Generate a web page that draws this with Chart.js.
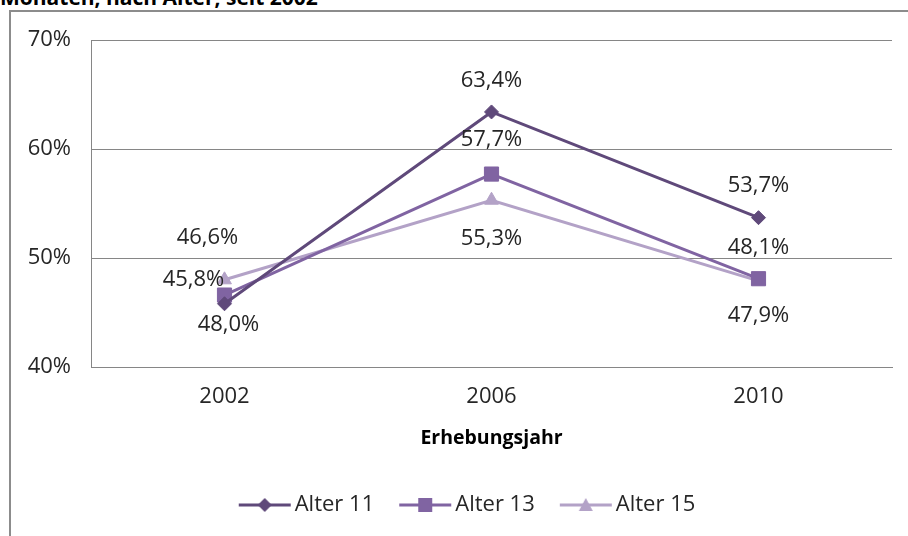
<!DOCTYPE html>
<html>
<head>
<meta charset="utf-8">
<script src="https://cdn.jsdelivr.net/npm/chart.js@4/dist/chart.umd.min.js"></script>
<style>
  html, body { margin: 0; padding: 0; background: #fff; overflow: hidden; }
  body { width: 908px; height: 536px; position: relative; font-family: "Open Sans", sans-serif; }
  #title { position: absolute; left: 0; top: -12px; font-size: 21px; line-height: 18px; font-weight: bold; color: #000; white-space: nowrap; }
  #frame { position: absolute; left: 9px; top: 10px; width: 1000px; height: 600px; border: 2px solid #8c8c8c; }
  #wrap { position: absolute; left: 11px; top: 12px; width: 897px; height: 524px; }
</style>
</head>
<body>
<div id="title">Monaten, nach Alter, seit 2002</div>
<div id="frame"></div>
<div id="wrap"><canvas id="lineChart"></canvas></div>
<script>
// Data
const years = ['2002', '2006', '2010'];
const seriesNames = ['Alter 11', 'Alter 13', 'Alter 15'];
const alter11 = [45.8, 63.4, 53.7];
const alter13 = [46.6, 57.7, 48.1];
const alter15 = [48.0, 55.3, 47.9];

const colors = ['#5f497a', '#8064a2', '#b3a2c7'];
const markers = ['rectRot', 'rect', 'triangle'];
const markerSizes = [7, 10, 8];

// label offsets in px from each point (dx, dy)
const labelOffsets = [
    [[-31, -24], [0, -31], [0, -32]],
    [[-17, -57], [0, -34], [0, -31]],
    [[4, 45], [0, 39], [0, 35]]
];

const fontFamily = '"Open Sans", sans-serif';
const textColor = '#262626';
const fontSize = 22;

function fmt(v) {
    return v.toFixed(1).replace('.', ',') + '%';
}

// legend icon: line with marker in the middle
function legendIcon(color, style) {
    const c = document.createElement('canvas');
    c.width = 56; c.height = 20;
    const g = c.getContext('2d');
    g.strokeStyle = color;
    g.fillStyle = color;
    g.lineWidth = 3;
    g.beginPath();
    g.moveTo(2, 10); g.lineTo(54, 10);
    g.stroke();
    g.beginPath();
    if (style === 'rectRot') {
        g.moveTo(28, 3); g.lineTo(35, 10); g.lineTo(28, 17); g.lineTo(21, 10);
    } else if (style === 'rect') {
        g.rect(21, 3, 14, 14);
    } else {
        g.moveTo(28, 3); g.lineTo(35, 16); g.lineTo(21, 16);
    }
    g.closePath();
    g.fill();
    return c;
}

const icons = colors.map((c, i) => legendIcon(c, markers[i]));

const dataLabels = {
    id: 'dataLabels',
    afterDatasetsDraw(chart) {
        const ctx = chart.ctx;
        ctx.save();
        ctx.font = fontSize + 'px ' + fontFamily;
        ctx.fillStyle = textColor;
        ctx.textAlign = 'center';
        ctx.textBaseline = 'middle';
        chart.data.datasets.forEach((ds, i) => {
            const meta = chart.getDatasetMeta(i);
            meta.data.forEach((pt, j) => {
                const off = labelOffsets[i][j];
                ctx.fillText(fmt(ds.data[j]), pt.x + off[0], pt.y + off[1]);
            });
        });
        ctx.restore();
    }
};

// nudge the legend a bit to the right, like the original
const legendShift = {
    id: 'legendShift',
    afterLayout(chart) {
        if (chart.legend) {
            chart.legend.left += 19;
            chart.legend.right += 19;
        }
    }
};

function initChart() {
    const ctx = document.getElementById('lineChart').getContext('2d');
    const seriesData = [alter11, alter13, alter15];
    new Chart(ctx, {
        type: 'line',
        data: {
            labels: years,
            datasets: seriesData.map((d, i) => ({
                label: seriesNames[i],
                data: d,
                borderColor: colors[i],
                backgroundColor: colors[i],
                borderWidth: 3,
                pointStyle: markers[i],
                pointRadius: markerSizes[i],
                pointBackgroundColor: colors[i],
                pointBorderColor: colors[i],
                pointBorderWidth: 1,
                tension: 0
            }))
        },
        options: {
            responsive: true,
            maintainAspectRatio: false,
            animation: false,
            layout: { padding: { top: 28, right: 16, left: 0, bottom: 10 } },
            plugins: {
                tooltip: { enabled: false },
                legend: {
                    position: 'bottom',
                    labels: {
                        usePointStyle: true,
                        pointStyleWidth: 38,
                        padding: 32,
                        color: textColor,
                        font: { family: fontFamily, size: fontSize },
                        generateLabels: chart => chart.data.datasets.map((ds, i) => ({
                            text: ds.label,
                            pointStyle: icons[i],
                            fillStyle: colors[i],
                            strokeStyle: colors[i],
                            lineWidth: 0,
                            hidden: false,
                            datasetIndex: i,
                            fontColor: textColor
                        }))
                    }
                }
            },
            scales: {
                x: {
                    offset: true,
                    grid: { display: false, drawTicks: false },
                    border: { display: true, color: '#868686', width: 1 },
                    ticks: { padding: 17, color: textColor, font: { family: fontFamily, size: fontSize } },
                    title: {
                        display: true,
                        text: 'Erhebungsjahr',
                        color: '#000',
                        font: { family: fontFamily, size: 19.5, weight: 'bold' },
                        padding: { top: 16, bottom: 12 }
                    },
                    afterFit: scale => { scale.height = 95; }
                },
                y: {
                    min: 40,
                    max: 70,
                    ticks: {
                        stepSize: 10,
                        padding: 20,
                        color: textColor,
                        font: { family: fontFamily, size: fontSize },
                        callback: v => v + '%'
                    },
                    grid: { color: '#868686', drawTicks: false },
                    border: { display: true, color: '#868686', width: 1 },
                    afterFit: scale => {
                        scale.width = 80;
                        scale.paddingTop = 0;
                        scale.paddingBottom = 0;
                    }
                }
            }
        },
        plugins: [dataLabels, legendShift]
    });
}

document.addEventListener('DOMContentLoaded', () => {
    initChart();
});
</script>
</body>
</html>
